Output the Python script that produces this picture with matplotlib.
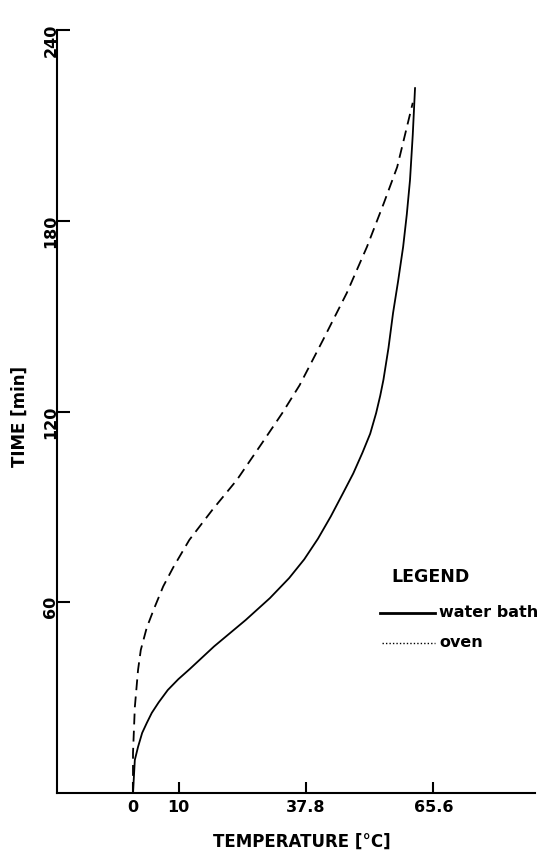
import numpy as np
import matplotlib
matplotlib.use("Agg")
import matplotlib.pyplot as plt
from matplotlib.lines import Line2D

# heating curves: temperature (deg C) against time (min)
water_temp = [0, 0.4, 1.1, 2.0, 3.0, 4.1, 5.6, 7.6, 9.9, 12.4, 17.7, 24.6,
              29.9, 34.1, 37.4, 40.4, 43.2, 45.9, 48.1, 50.1, 51.8, 53.1,
              54.0, 54.7, 55.8, 56.8, 57.9, 59.0, 59.8, 60.5, 61.1, 61.6]
water_time = [0, 10.4, 14.5, 18.9, 22.0, 25.2, 28.5, 32.4, 35.8, 39.0, 46.1,
              54.4, 61.3, 67.6, 73.5, 80.0, 87.0, 94.4, 100.5, 107.0, 113.0,
              119.5, 125.0, 130.0, 140.0, 151.0, 161.0, 171.8, 182.0, 192.8,
              207.0, 221.8]

oven_temp = [0, 0.0, 0.4, 1.1, 1.7, 3.0, 4.6, 6.6, 8.8, 12.3, 17.3, 22.7,
             28.2, 32.6, 36.4, 41.5, 46.7, 51.1, 54.8, 57.7, 61.1]
oven_time = [0, 12.6, 27.0, 38.7, 45.0, 52.0, 58.0, 65.0, 71.0, 79.6, 89.0,
             98.5, 110.1, 119.5, 128.3, 142.5, 157.3, 171.8, 185.6, 196.9,
             217.1]

x_ticks = [0, 10, 37.8, 65.6]
x_ticklabels = ["0", "10", "37.8", "65.6"]
y_ticks = [60, 120, 180, 240]
y_ticklabels = ["60", "120", "180", "240"]

plt.rcParams['font.family'] = ['DejaVu Sans']

fig = plt.figure(figsize=(5.54, 8.52), dpi=100)
ax = fig.add_axes([57/554, 1 - 793/852, 478/554, 763/852])

ax.plot(water_temp, water_time, color="black", lw=1.3,
        solid_joinstyle="round", solid_capstyle="round")
ax.plot(oven_temp, oven_time, color="black", lw=1.3, linestyle=(0, (6, 3.5)))

ax.set_xlim(-16.6, 87.8)
ax.set_ylim(0, 240)

for side in ["top", "right"]:
    ax.spines[side].set_visible(False)
for side in ["left", "bottom"]:
    ax.spines[side].set_linewidth(1.5)

ax.set_xticks(x_ticks)
ax.set_xticklabels(x_ticklabels, fontsize=11.5, fontweight="bold")
ax.set_yticks(y_ticks)
ax.set_yticklabels(y_ticklabels, fontsize=11.5, fontweight="bold")
ax.tick_params(axis="x", direction="in", length=8, width=1.5, pad=5)
ax.tick_params(axis="y", direction="in", length=9, width=1.5, pad=-1,
               labelrotation=90)

ax.set_xlabel("TEMPERATURE [°C]", fontsize=12, fontweight="bold")
ax.xaxis.set_label_coords(0.513, -0.052)
ax.set_ylabel("TIME [min]", fontsize=12, fontweight="bold")
ax.yaxis.set_label_coords(-0.060, 0.493)

# hand-drawn style legend
ax.text(0.70, 0.283, "LEGEND", transform=ax.transAxes, fontsize=12.5,
        fontweight="bold", ha="left", va="center")
ax.add_line(Line2D([0.676, 0.79], [0.236, 0.236], transform=ax.transAxes,
                   color="black", lw=2))
ax.text(0.80, 0.236, "water bath", transform=ax.transAxes, fontsize=11.5,
        fontweight="bold", ha="left", va="center")
ax.add_line(Line2D([0.68, 0.79], [0.197, 0.197], transform=ax.transAxes,
                   color="black", lw=1, linestyle=(0, (1, 1.5))))
ax.text(0.80, 0.197, "oven", transform=ax.transAxes, fontsize=11.5,
        fontweight="bold", ha="left", va="center")

fig.savefig("out.png", dpi=100)
